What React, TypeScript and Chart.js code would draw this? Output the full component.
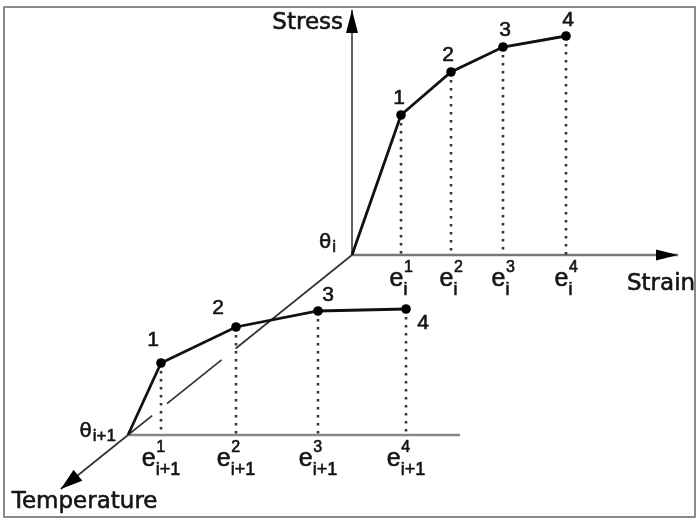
import React, { useEffect, useRef } from 'react';
import { Chart, registerables } from 'chart.js';

Chart.register(...registerables);

// ---- Diagram data (abstract units, origin at the θi plane) ----
const pointLabels = ['1', '2', '3', '4'];
const strainUpper = [0, 49, 99, 151, 214];
const stressUpper = [0, 140, 183, 208, 219];
const strainLower = [0, 33, 108, 190, 278];
const stressLower = [0, 72, 108, 124, 126];
const tempSubscripts = ['i', 'i+1'];
const tempShiftX = [0, -224];
const tempShiftY = [0, -180];
const strainAxisEnd = [326, 332];
const stressAxisEnd = 245;
const temperatureAxisEnd = 1.3; // in θi→θi+1 steps
const tickSub = ['i', 'i+1'];
const xRange = [-352, 344];
const yRange = [-263, 255];

// ---- styles ----
const WORD_FONT = '"DejaVu Sans", "Liberation Sans", sans-serif';
const NUM_FONT = '"Liberation Sans", Arial, sans-serif';
const upperLabelOffsets = [[-2, -17], [-3, -17], [2, -17], [2, -16]];
const lowerLabelOffsets = [[-8, -23], [-18, -19], [10, -16], [17, 14]];

export default function App() {
  const ref = useRef<HTMLCanvasElement>(null);

  useEffect(() => {
    const canvas = ref.current;
    if (!canvas) return;

    const lox = tempShiftX[1];
    const loy = tempShiftY[1];
    const dashT = (lox + strainLower[2]) / lox;

    const line = (data: any[], color: string, width: number, dash: number[] = []) => ({
      type: 'scatter' as const,
      data,
      showLine: true,
      borderColor: color,
      backgroundColor: color,
      borderWidth: width,
      borderDash: dash,
      pointRadius: 0,
      fill: false,
      clip: false as any,
      tension: 0,
    });

    const curve = (xs: number[], ys: number[], ox: number, oy: number) => ({
      type: 'scatter' as const,
      data: xs.map((v, i) => ({ x: ox + v, y: oy + ys[i] })),
      showLine: true,
      borderColor: '#111',
      borderWidth: 2.8,
      pointRadius: xs.map((_, i) => (i === 0 ? 0 : 4.8)),
      pointBackgroundColor: '#000',
      pointBorderWidth: 0,
      fill: false,
      clip: false as any,
      tension: 0,
    });

    const dotted = (xs: number[], ys: number[], ox: number, oy: number) =>
      xs.slice(1).map((v, k) =>
        line(
          [
            { x: ox + v, y: oy + ys[k + 1] },
            { x: ox + v, y: oy },
          ],
          '#333',
          2.6,
          [2.6, 5.4]
        )
      );

    const datasets: any[] = [
      curve(strainUpper, stressUpper, tempShiftX[0], tempShiftY[0]),
      curve(strainLower, stressLower, lox, loy),
      ...dotted(strainUpper, stressUpper, tempShiftX[0], tempShiftY[0]),
      ...dotted(strainLower, stressLower, lox, loy),
      // stress axis
      line([{ x: 0, y: 0 }, { x: 0, y: stressAxisEnd }], '#444', 1.7),
      // upper strain axis
      line([{ x: 0, y: 0 }, { x: strainAxisEnd[0], y: 0 }], '#777', 2.6),
      // lower strain axis
      line([{ x: lox, y: loy }, { x: lox + strainAxisEnd[1], y: loy }], '#888', 2.4),
      // temperature axis: solid part
      line([{ x: 0, y: 0 }, { x: lox * dashT, y: loy * dashT }], '#333', 1.7),
      // hidden part (dashed)
      line([{ x: lox, y: loy }, { x: lox * dashT, y: loy * dashT }], '#333', 1.7, [31, 19, 70, 18]),
      // beyond θi+1
      line([{ x: lox, y: loy }, { x: lox * temperatureAxisEnd, y: loy * temperatureAxisEnd }], '#333', 1.7),
    ];

    const arrow = (ctx: CanvasRenderingContext2D, tx: number, ty: number, fx: number, fy: number, len: number, hw: number) => {
      const dx = tx - fx;
      const dy = ty - fy;
      const d = Math.hypot(dx, dy);
      const ux = dx / d;
      const uy = dy / d;
      const bx = tx - ux * len;
      const by = ty - uy * len;
      ctx.beginPath();
      ctx.moveTo(tx, ty);
      ctx.lineTo(bx - uy * hw, by + ux * hw);
      ctx.lineTo(bx + uy * hw, by - ux * hw);
      ctx.closePath();
      ctx.fillStyle = '#000';
      ctx.fill();
    };

    const text = (ctx: CanvasRenderingContext2D, s: string, x: number, y: number) => {
      ctx.fillText(s, x, y);
      ctx.strokeText(s, x, y);
    };

    const diagramPlugin = {
      id: 'diagram',
      afterDraw(chart: any) {
        const ctx: CanvasRenderingContext2D = chart.ctx;
        const sx = chart.scales.x;
        const sy = chart.scales.y;
        const px = (v: number) => sx.getPixelForValue(v);
        const py = (v: number) => sy.getPixelForValue(v);
        ctx.save();

        // arrowheads
        arrow(ctx, px(0), py(stressAxisEnd), px(0), py(0), 23, 6);
        arrow(ctx, px(strainAxisEnd[0]), py(0), px(0), py(0), 22, 5.5);
        arrow(ctx, px(lox * temperatureAxisEnd), py(loy * temperatureAxisEnd), px(lox), py(loy), 22, 7);

        ctx.fillStyle = '#151515';
        ctx.strokeStyle = '#151515';
        ctx.lineWidth = 0.6;
        ctx.lineJoin = 'round';
        ctx.textBaseline = 'alphabetic';

        // axis titles
        ctx.font = `23px ${WORD_FONT}`;
        ctx.textAlign = 'right';
        text(ctx, 'Stress', px(0) - 9, py(stressAxisEnd) + 19);
        ctx.textAlign = 'left';
        text(ctx, 'Strain', px(strainAxisEnd[0]) - 51, py(0) + 35);
        text(ctx, 'Temperature', px(lox * temperatureAxisEnd) - 49, py(loy * temperatureAxisEnd) + 19);

        // θ labels at each plane origin
        const planes = [
          { ox: tempShiftX[0], oy: tempShiftY[0], sub: tempSubscripts[0], dx: -16, dy: -7 },
          { ox: lox, oy: loy, sub: tempSubscripts[1], dx: -12, dy: 2 },
        ];
        planes.forEach((p) => {
          ctx.font = `17px ${NUM_FONT}`;
          const subW = ctx.measureText(p.sub).width;
          ctx.font = `20px ${WORD_FONT}`;
          const thW = ctx.measureText('θ').width;
          const right = px(p.ox) + p.dx;
          const base = py(p.oy) + p.dy;
          ctx.textAlign = 'left';
          text(ctx, 'θ', right - subW - thW - 1, base);
          ctx.font = `17px ${NUM_FONT}`;
          text(ctx, p.sub, right - subW, base + 4);
        });

        // point number labels
        ctx.font = `21px ${NUM_FONT}`;
        ctx.textAlign = 'center';
        ctx.textBaseline = 'middle';
        pointLabels.forEach((lab, i) => {
          const u = upperLabelOffsets[i];
          text(ctx, lab, px(strainUpper[i + 1]) + u[0], py(stressUpper[i + 1]) + u[1]);
          const l = lowerLabelOffsets[i];
          text(ctx, lab, px(lox + strainLower[i + 1]) + l[0], py(loy + stressLower[i + 1]) + l[1]);
        });

        // strain tick labels e_sub^sup
        ctx.textBaseline = 'alphabetic';
        ctx.textAlign = 'left';
        const drawTick = (x: number, axisY: number, sup: string, sub: string) => {
          ctx.font = `25px ${NUM_FONT}`;
          const eW = ctx.measureText('e').width;
          ctx.font = `16px ${NUM_FONT}`;
          const supW = ctx.measureText(sup).width;
          ctx.font = `18px ${NUM_FONT}`;
          const subW = ctx.measureText(sub).width;
          const group = eW + Math.max(supW, subW);
          const left = x - group / 2;
          ctx.font = `25px ${NUM_FONT}`;
          text(ctx, 'e', left, axisY + 31);
          ctx.font = `16px ${NUM_FONT}`;
          text(ctx, sup, left + eW + 0.5, axisY + 17);
          ctx.font = `18px ${NUM_FONT}`;
          text(ctx, sub, left + eW, axisY + 40);
        };
        pointLabels.forEach((lab, i) => {
          drawTick(px(strainUpper[i + 1]), py(0), lab, tickSub[0]);
          drawTick(px(lox + strainLower[i + 1]), py(loy), lab, tickSub[1]);
        });

        // frame
        ctx.strokeStyle = '#8a8a8a';
        ctx.lineWidth = 2;
        ctx.strokeRect(4, 7, chart.width - 5, chart.height - 8);
        ctx.restore();
      },
    };

    const chart = new Chart(canvas, {
      type: 'scatter',
      data: { datasets },
      options: {
        responsive: false,
        maintainAspectRatio: false,
        animation: false,
        layout: { padding: 0, autoPadding: false } as any,
        plugins: { legend: { display: false }, tooltip: { enabled: false } },
        scales: {
          x: { type: 'linear', min: xRange[0], max: xRange[1], display: false },
          y: { type: 'linear', min: yRange[0], max: yRange[1], display: false },
        },
      },
      plugins: [diagramPlugin],
    });
    return () => chart.destroy();
  }, []);

  return (
    <div style={{ position: 'fixed', left: 0, top: 0, width: 696, height: 518, background: '#fff' }}>
      <canvas ref={ref} width={696} height={518} style={{ display: 'block' }} />
    </div>
  );
}
